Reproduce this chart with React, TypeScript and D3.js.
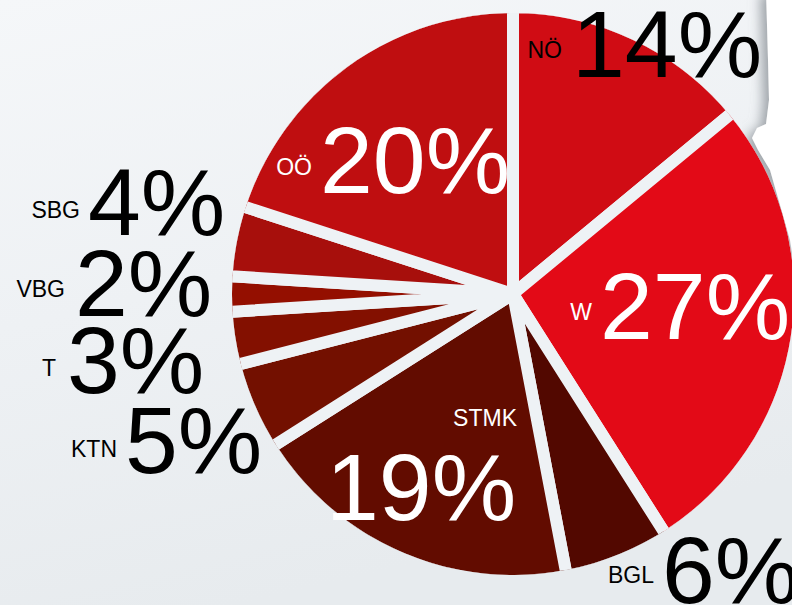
import React from "react";
import * as d3 from "d3";

const regions = ["NÖ", "W", "BGL", "STMK", "KTN", "T", "VBG", "SBG", "OÖ"];
const shares = [14, 27, 6, 19, 5, 3, 2, 4, 20];
const sliceColors = ["#d00c14", "#e30a17", "#520800", "#620c00", "#731000", "#831000", "#940f00", "#a70f0c", "#bf0e10"];
const labelInside = [false, true, false, true, false, false, false, false, true];

// label layout: [small label end x, small baseline, big number start x, big baseline]
const labelLayout: [number, number, number, number][] = [
  [562, 58, 572, 77],
  [592, 320, 600, 339],
  [654, 583, 662, 603],
  [517, 426, 326, 520],
  [117, 457, 125, 473],
  [56, 376, 67, 393],
  [65, 297, 75, 316],
  [80, 218, 88, 235],
  [312, 175, 320, 193],
];

const W = 792;
const H = 605;
const CX = 513;
const CY = 294;
const R = 287;
const GAP = 12;
const FONT = "'Liberation Sans', Arial, sans-serif";

export default function App() {
  const pie = d3.pie<number>().sort(null).value((d) => d)(shares);
  const arc = d3.arc<d3.PieArcDatum<number>>().innerRadius(0).outerRadius(R);
  return (
    <svg width={W} height={H} style={{ position: "absolute", left: 0, top: 0 }}>
      <defs>
        <linearGradient id="bg" x1="0" y1="0" x2="0.3" y2="1">
          <stop offset="0" stopColor="#f5f7f9" />
          <stop offset="0.5" stopColor="#eef1f4" />
          <stop offset="1" stopColor="#e7ebee" />
        </linearGradient>
        <filter id="sh" x="-20%" y="-20%" width="140%" height="140%">
          <feGaussianBlur in="SourceAlpha" stdDeviation="6" />
          <feOffset dx="-6" dy="4" result="b" />
          <feFlood floodColor="#8a9096" floodOpacity="0.8" />
          <feComposite in2="b" operator="in" />
          <feMerge>
            <feMergeNode />
            <feMergeNode in="SourceGraphic" />
          </feMerge>
        </filter>
        <clipPath id="pieClip">
          <circle cx={0} cy={0} r={R - GAP / 2} />
        </clipPath>
      </defs>
      <rect x={0} y={0} width={W} height={H} fill="url(#bg)" />
      <path
        d="M766,-10 L800,-10 L800,300 L790,240 L770,170 L758,150 L752,138 L757,128 L766,124 L769,100 L768,60 Z"
        fill="#ffffff"
        filter="url(#sh)"
      />
      <g transform={`translate(${CX},${CY})`} clipPath="url(#pieClip)">
        {pie.map((p, i) => (
          <path key={regions[i]} d={arc(p) || ""} fill={sliceColors[i]} stroke="#eef2f5" strokeWidth={GAP} strokeLinejoin="miter" />
        ))}
      </g>
      {regions.map((r, i) => {
        const [sx, sy, bx, by] = labelLayout[i];
        const col = labelInside[i] ? "#ffffff" : "#000000";
        return (
          <g key={r} fontFamily={FONT} fill={col}>
            <text x={sx} y={sy} fontSize={23} textAnchor="end">{r}</text>
            <text x={bx} y={by} fontSize={95}>{shares[i]}%</text>
          </g>
        );
      })}
    </svg>
  );
}
